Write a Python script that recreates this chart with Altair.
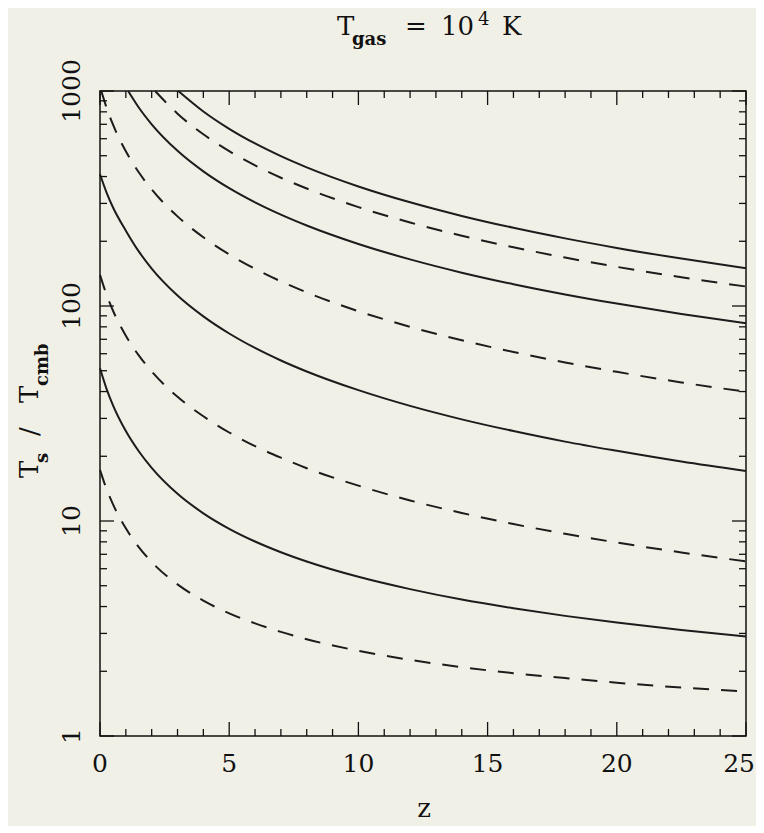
import altair as alt
import pandas as pd

# ---- data (z, Ts/Tcmb) ----
z_d1 = [0, 0.25, 0.5, 1, 1.5, 2, 3, 4, 5, 6, 7, 8, 10, 12, 14, 16, 18, 20, 22.5, 25]
v_d1 = [17.3, 14.12, 11.98, 9.25, 7.56, 6.44, 5.07, 4.26, 3.72, 3.34, 3.05, 2.82, 2.49, 2.26, 2.09, 1.96, 1.86, 1.77, 1.68, 1.61]

z_s1 = [0, 0.25, 0.5, 1, 1.5, 2, 3, 4, 5, 6, 7, 8, 10, 12, 14, 16, 18, 20, 22.5, 25]
v_s1 = [51.3, 41.3, 34.6, 26.2, 21.1, 17.67, 13.38, 10.86, 9.20, 8.03, 7.16, 6.48, 5.50, 4.82, 4.31, 3.93, 3.62, 3.37, 3.11, 2.90]

z_d2 = [0, 0.25, 0.5, 1, 1.5, 2, 3, 4, 5, 6, 7, 8, 10, 12, 14, 16, 18, 20, 22.5, 25]
v_d2 = [139.6, 113.2, 95.3, 72.7, 58.9, 49.6, 37.8, 30.7, 25.8, 22.3, 19.7, 17.6, 14.6, 12.46, 10.9, 9.68, 8.72, 7.94, 7.14, 6.49]

z_s2 = [0, 0.25, 0.5, 1, 1.5, 2, 3, 4, 5, 6, 7, 8, 10, 12, 14, 16, 18, 20, 22.5, 25]
v_s2 = [410, 338, 288, 224, 179.4, 149.4, 111.9, 89.5, 74.5, 63.8, 55.8, 49.6, 40.6, 34.3, 29.7, 26.2, 23.4, 21.2, 18.9, 17.1]

z_d3 = [0.05, 0.25, 0.5, 1, 1.5, 2, 3, 4, 5, 6, 7, 8, 10, 12, 14, 16, 18, 20, 22.5, 25]
v_d3 = [1000, 839.5, 699, 524, 418.6, 348.5, 261.1, 208.7, 173.8, 148.9, 130.2, 115.7, 94.6, 80.0, 69.3, 61.1, 54.6, 49.4, 44.1, 39.9]

z_s3 = [1.09, 1.5, 2, 3, 4, 5, 6, 7, 8, 10, 12, 14, 16, 18, 20, 22.5, 25]
v_s3 = [1000, 838, 700, 527, 422.8, 353, 303.3, 265.9, 236.7, 194.2, 164.7, 142.9, 126.3, 113.2, 102.6, 91.8, 83.1]

z_d4 = [2.13, 3, 4, 5, 6, 7, 8, 10, 12, 14, 16, 18, 20, 22.5, 25]
v_d4 = [1000, 784, 629, 525, 451, 395, 351.9, 288.4, 244.6, 212.3, 187.6, 168.0, 152.1, 136.1, 123.2]

z_s4 = [3.03, 4, 5, 6, 7, 8, 10, 12, 14, 16, 18, 20, 22.5, 25]
v_s4 = [1000, 803, 667, 570, 497.6, 441.4, 359.8, 303.6, 262.4, 231.0, 206.3, 186.3, 166.2, 149.9]

curves = [
    ("d1", "dashed", z_d1, v_d1), ("s1", "solid", z_s1, v_s1),
    ("d2", "dashed", z_d2, v_d2), ("s2", "solid", z_s2, v_s2),
    ("d3", "dashed", z_d3, v_d3), ("s3", "solid", z_s3, v_s3),
    ("d4", "dashed", z_d4, v_d4), ("s4", "solid", z_s4, v_s4),
]

x_major = [0, 5, 10, 15, 20, 25]
x_minor = [1, 2, 3, 4, 6, 7, 8, 9, 11, 12, 13, 14, 16, 17, 18, 19, 21, 22, 23, 24]
y_major = [1, 10, 100, 1000]
y_minor = [m * d for d in (1, 10, 100) for m in range(2, 10)]
x_labels = ["0", "5", "10", "15", "20", "25"]
y_labels = ["1", "10", "100", "1000"]

# ---- build tables ----
rows = []
for name, style, zs, vs in curves:
    for z, v in zip(zs, vs):
        rows.append({"curve": name, "style": style, "z": z, "v": v})
df = pd.DataFrame(rows)

W, H = 646, 645
BG = "#f1f0e6"
LC = "#1c1c1c"
AC = "#111111"
FONT = "DejaVu Serif"

xs = alt.Scale(domain=[0, 25], nice=False, zero=False)
ys = alt.Scale(type="log", domain=[1, 1000], nice=False)

base = alt.Chart(df)
solid = base.transform_filter(alt.datum.style == "solid").mark_line(
    interpolate="monotone", color=LC, strokeWidth=2
).encode(
    x=alt.X("z:Q", scale=xs, axis=None),
    y=alt.Y("v:Q", scale=ys, axis=None),
    detail="curve:N",
)
dashed = base.transform_filter(alt.datum.style == "dashed").mark_line(
    interpolate="monotone", color=LC, strokeWidth=2, strokeDash=[16, 12]
).encode(
    x=alt.X("z:Q", scale=xs, axis=None),
    y=alt.Y("v:Q", scale=ys, axis=None),
    detail="curve:N",
)

def xticks(vals, length):
    d = alt.Chart(pd.DataFrame({"t": vals}))
    enc_x = alt.X("t:Q", scale=xs, axis=None)
    bottom = d.mark_rule(color=AC, strokeWidth=1.3).encode(
        x=enc_x, y=alt.value(H), y2=alt.value(H - length))
    top = d.mark_rule(color=AC, strokeWidth=1.3).encode(
        x=enc_x, y=alt.value(0), y2=alt.value(length))
    return [bottom, top]

def yticks(vals, length):
    d = alt.Chart(pd.DataFrame({"t": vals}))
    enc_y = alt.Y("t:Q", scale=ys, axis=None)
    left = d.mark_rule(color=AC, strokeWidth=1.3).encode(
        y=enc_y, x=alt.value(0), x2=alt.value(length))
    right = d.mark_rule(color=AC, strokeWidth=1.3).encode(
        y=enc_y, x=alt.value(W), x2=alt.value(W - length))
    return [left, right]

tick_layers = xticks(x_major, 14) + xticks(x_minor, 7) + yticks(y_major, 14) + yticks(y_minor, 7)

xl_df = pd.DataFrame({"t": x_major, "lab": x_labels})
xlab = alt.Chart(xl_df.iloc[:-1]).mark_text(
    font=FONT, fontSize=25, align="center", baseline="alphabetic", color=AC
).encode(x=alt.X("t:Q", scale=xs, axis=None), y=alt.value(681), text="lab:N")
xlab_last = alt.Chart(xl_df.iloc[-1:]).mark_text(
    font=FONT, fontSize=25, align="right", baseline="alphabetic", color=AC, dx=9
).encode(x=alt.X("t:Q", scale=xs, axis=None), y=alt.value(681), text="lab:N")

ylab = alt.Chart(pd.DataFrame({"t": y_major, "lab": y_labels})).mark_text(
    font=FONT, fontSize=25, align="center", baseline="alphabetic", angle=270, color=AC
).encode(y=alt.Y("t:Q", scale=ys, axis=None), x=alt.value(-20), text="lab:N")

def txt(s, x, y, size=26, weight="normal", angle=0):
    kw = dict(font=FONT, fontSize=size, fontWeight=weight, align="left",
              baseline="alphabetic", color=AC)
    if angle:
        kw["angle"] = angle
    return alt.Chart(pd.DataFrame({"s": [s]})).mark_text(**kw).encode(
        x=alt.value(x), y=alt.value(y), text="s:N")

title = [
    txt("T", 237, -56),
    txt("gas", 252, -46, size=18, weight="bold"),
    txt("=", 305, -56),
    txt("10", 341, -56),
    txt("4", 378, -66, size=18),
    txt("K", 402, -56),
]
ytitle = [
    txt("T", -62, 387, angle=270),
    txt("s", -52, 372, size=18, weight="bold", angle=270),
    txt("/", -62, 345, angle=270),
    txt("T", -62, 312, angle=270),
    txt("cmb", -52, 295, size=18, weight="bold", angle=270),
]
xtitle = [alt.Chart(pd.DataFrame({"s": ["z"]})).mark_text(
    font=FONT, fontSize=26, align="center", baseline="alphabetic", color=AC
).encode(x=alt.value(W / 2 + 1), y=alt.value(726), text="s:N")]

chart = alt.layer(
    solid, dashed, *tick_layers, xlab, xlab_last, ylab, *title, *ytitle, *xtitle
).properties(
    width=W, height=H,
    autosize=alt.AutoSizeParams(type="none"),
    padding={"left": 92, "top": 83, "right": 10, "bottom": 90},
    background=BG,
).configure_view(stroke=AC, strokeWidth=1.5)

chart.save("out.html", embed_options={"renderer": "svg", "actions": False})
